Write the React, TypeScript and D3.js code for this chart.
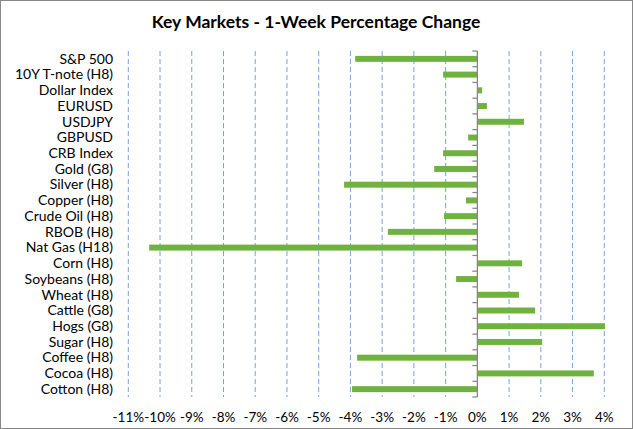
import * as d3 from "d3";

const categories = [
  "S&P 500", "10Y T-note (H8)", "Dollar Index", "EURUSD", "USDJPY", "GBPUSD",
  "CRB Index", "Gold (G8)", "Silver (H8)", "Copper (H8)", "Crude Oil (H8)",
  "RBOB (H8)", "Nat Gas (H18)", "Corn (H8)", "Soybeans (H8)", "Wheat (H8)",
  "Cattle (G8)", "Hogs (G8)", "Sugar (H8)", "Coffee (H8)", "Cocoa (H8)", "Cotton (H8)",
];

const changes = [
  -3.85, -1.08, 0.15, 0.3, 1.47, -0.29,
  -1.08, -1.36, -4.2, -0.36, -1.05,
  -2.82, -10.34, 1.41, -0.67, 1.31,
  1.82, 4.02, 2.04, -3.79, 3.67, -3.95,
];

const tickValues = [-11, -10, -9, -8, -7, -6, -5, -4, -3, -2, -1, 0, 1, 2, 3, 4];

const W = 633;
const H = 429;
const font = "Lato, 'Open Sans', sans-serif";

const App = () => {
  const x = d3.scaleLinear().domain([-11, 4]).range([128.3, 604.3]);
  const y = d3.scaleBand<string>()
    .domain(categories)
    .range([51, 397])
    .paddingInner(0.62)
    .paddingOuter(0.31);
  const step = y.step();
  const x0 = x(0);

  return (
    <svg width={W} height={H} style={{ position: "absolute", left: 0, top: 0 }}>
      <rect x={0.5} y={0.5} width={W - 1} height={H - 1} fill="#fff" stroke="#888" />
      <text x={316} y={28} textAnchor="middle" fontFamily={font} fontWeight="bold" fontSize={17.5} fill="#000">
        Key Markets - 1-Week Percentage Change
      </text>

      {tickValues.map((t) => (
        <line key={"g" + t} x1={x(t)} x2={x(t)} y1={51} y2={397}
          stroke="#7BA3D6" strokeWidth={1} strokeDasharray="5,3"
          visibility={t === 0 ? "hidden" : "visible"} />
      ))}

      {categories.map((c, i) => {
        const v = changes[i];
        return (
          <rect key={"b" + c} x={Math.min(x(v), x0)} y={y(c)}
            width={Math.abs(x(v) - x0)} height={y.bandwidth()} fill="#70B240" />
        );
      })}

      <line x1={x0} x2={x0} y1={51} y2={397} stroke="#868686" strokeWidth={1.25} />
      {d3.range(categories.length + 1).map((i) => (
        <line key={"t" + i} x1={x0 - 5} x2={x0} y1={51 + i * step} y2={51 + i * step}
          stroke="#868686" strokeWidth={1.25} />
      ))}

      {categories.map((c) => (
        <text key={"l" + c} x={113} y={(y(c) ?? 0) + y.bandwidth() / 2 + 4.8}
          textAnchor="end" fontFamily={font} fontSize={14} fill="#000">
          {c}
        </text>
      ))}

      {tickValues.map((t) => (
        <text key={"x" + t} x={x(t)} y={421.5} textAnchor="middle"
          fontFamily={font} fontSize={13.5} fill="#000">
          {t + "%"}
        </text>
      ))}
    </svg>
  );
};

export default App;
